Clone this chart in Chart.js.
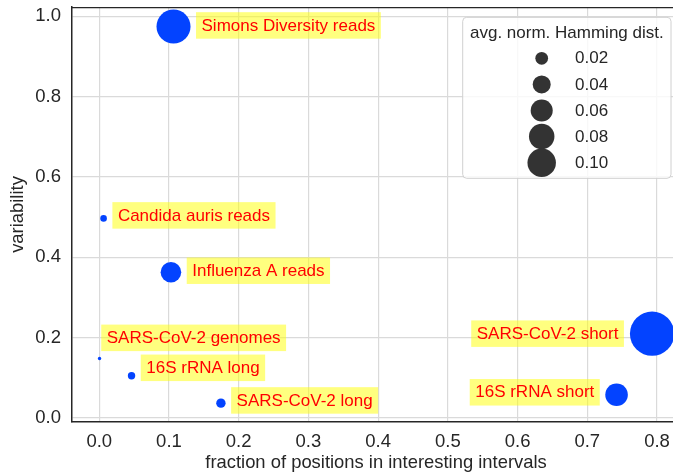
<!DOCTYPE html>
<html><head><meta charset="utf-8">
<script src="https://cdn.jsdelivr.net/npm/chart.js@4"></script>
<style>html,body{margin:0;padding:0;background:#fff;overflow:hidden}#wrap{width:673px;height:475px;position:relative;overflow:hidden}</style>
</head><body><div id="wrap"><canvas id="c" width="680" height="475"></canvas></div>
<script>
// ---- data ----
const datasetNames = ['Simons Diversity reads','Candida auris reads','Influenza A reads','SARS-CoV-2 genomes','16S rRNA long','SARS-CoV-2 long','SARS-CoV-2 short','16S rRNA short'];
const fractionInIntervals = [0.1065, 0.0062, 0.1028, 0.0004, 0.0463, 0.1745, 0.793, 0.742];
const variability = [0.975, 0.497, 0.363, 0.148, 0.105, 0.037, 0.210, 0.058];
const hammingDist = [0.143, 0.0054, 0.0524, 0.0014, 0.0068, 0.0109, 0.243, 0.063];
const sizeLegendValues = [0.02, 0.04, 0.06, 0.08, 0.10];
const sizeLegendLabels = ['0.02','0.04','0.06','0.08','0.10'];
const xTickLabels = ['0.0','0.1','0.2','0.3','0.4','0.5','0.6','0.7','0.8'];
const yTickLabels = ['0.0','0.2','0.4','0.6','0.8','1.0'];
const xTitle = 'fraction of positions in interesting intervals';
const yTitle = 'variability';
const legendTitle = 'avg. norm. Hamming dist.';

// ---- styles ----
const FONT = '"Liberation Sans", Arial, sans-serif';
const TXT = '#262626';
const SIZE_K = 45;
const radiusFor = h => SIZE_K * Math.sqrt(h);
const labelPlacement = [
  {side:'r', gap:5.5, dy:-1},
  {side:'r', gap:5.5, dy:-3},
  {side:'r', gap:5.5, dy:-1.5},
  {side:'r', gap:0,   dy:-20.7},
  {side:'r', gap:5.5, dy:-8},
  {side:'r', gap:5.5, dy:-2.7},
  {side:'l', gap:6,   dy:0},
  {side:'l', gap:5.5, dy:-2.4}
];

const points = fractionInIntervals.map((x, i) => ({x, y: variability[i]}));

const noPad = s => { s.paddingTop = 0; s.paddingBottom = 0; s.paddingLeft = 0; s.paddingRight = 0; };

const annotPlugin = {
  id: 'annot',
  afterDatasetsDraw(chart) {
    const {ctx, scales:{x, y}} = chart;
    ctx.save();
    ctx.font = '17px ' + FONT;
    ctx.textBaseline = 'middle';
    ctx.textAlign = 'left';
    const padX = 5.5, boxH = 26.5;
    datasetNames.forEach((name, i) => {
      const px = x.getPixelForValue(fractionInIntervals[i]);
      const py = y.getPixelForValue(variability[i]);
      const r = radiusFor(hammingDist[i]);
      const p = labelPlacement[i];
      const w = ctx.measureText(name).width + 2 * padX;
      const left = p.side === 'r' ? px + r + p.gap : px - r - p.gap - w;
      const top = py + p.dy - boxH / 2;
      ctx.fillStyle = 'rgba(255,255,0,0.5)';
      ctx.fillRect(left, top, w, boxH);
      ctx.fillStyle = '#ff0000';
      ctx.fillText(name, left + padX, top + boxH / 2 + 0.5);
    });
    ctx.restore();
  },
  afterDraw(chart) {
    const {ctx, chartArea: ca} = chart;
    ctx.save();
    // top spine
    ctx.strokeStyle = TXT; ctx.lineWidth = 1.25;
    ctx.beginPath(); ctx.moveTo(ca.left, ca.top + 0.5); ctx.lineTo(ca.right, ca.top + 0.5); ctx.stroke();
    // size legend
    const bw = 208.3, bh = 161, bx = ca.right - 9 - bw, by = ca.top + 10.3;
    ctx.beginPath();
    if (ctx.roundRect) ctx.roundRect(bx, by, bw, bh, 4); else ctx.rect(bx, by, bw, bh);
    ctx.fillStyle = 'rgba(255,255,255,0.8)'; ctx.fill();
    ctx.strokeStyle = '#d0d0d0'; ctx.lineWidth = 1; ctx.stroke();
    ctx.font = '17px ' + FONT;
    ctx.fillStyle = TXT; ctx.textBaseline = 'middle'; ctx.textAlign = 'center';
    ctx.fillText(legendTitle, bx + bw / 2, by + 15.6);
    sizeLegendValues.forEach((v, i) => {
      const cy = by + 41 + i * 26.1;
      ctx.beginPath();
      ctx.arc(bx + 79, cy, radiusFor(v), 0, Math.PI * 2);
      ctx.fillStyle = '#333333'; ctx.fill();
      ctx.fillStyle = TXT; ctx.textAlign = 'left';
      ctx.fillText(sizeLegendLabels[i], bx + 112.3, cy + 0.5);
    });
    ctx.restore();
  }
};

new Chart(document.getElementById('c'), {
  type: 'scatter',
  data: {
    datasets: [{
      data: points,
      backgroundColor: '#0343ff',
      borderWidth: 0,
      pointRadius: c => radiusFor(hammingDist[c.dataIndex]),
      pointHoverRadius: c => radiusFor(hammingDist[c.dataIndex])
    }]
  },
  options: {
    responsive: false,
    devicePixelRatio: 1,
    animation: false,
    events: [],
    layout: {autoPadding: false, padding: {top: 7, right: 0, left: 0, bottom: 0}},
    plugins: {legend: {display: false}, tooltip: {enabled: false}},
    scales: {
      x: {
        type: 'linear', min: -0.0391, max: 0.833,
        afterFit: s => { s.height = 53; noPad(s); },
        grid: {color: '#dadada', lineWidth: 1.2, drawTicks: false},
        border: {color: TXT, width: 1.5},
        ticks: {stepSize: 0.1, includeBounds: false, padding: 8.5, color: TXT,
          font: {family: FONT, size: 18.5},
          callback: v => xTickLabels[Math.round(v * 10)]},
        title: {display: true, text: xTitle, color: TXT, font: {family: FONT, size: 18.4}, padding: {top: 1, bottom: 1}}
      },
      y: {
        type: 'linear', min: -0.01, max: 1.0234,
        afterFit: s => { s.width = 72; noPad(s); },
        grid: {color: '#dadada', lineWidth: 1.2, drawTicks: false},
        border: {color: TXT, width: 1.5},
        ticks: {stepSize: 0.2, includeBounds: false, padding: 11, color: TXT,
          font: {family: FONT, size: 18.5},
          callback: v => yTickLabels[Math.round(v * 5)]},
        title: {display: true, text: yTitle, color: TXT, font: {family: FONT, size: 18.4}, padding: {top: 7, bottom: 7}}
      }
    }
  },
  plugins: [annotPlugin]
});
</script></body></html>
